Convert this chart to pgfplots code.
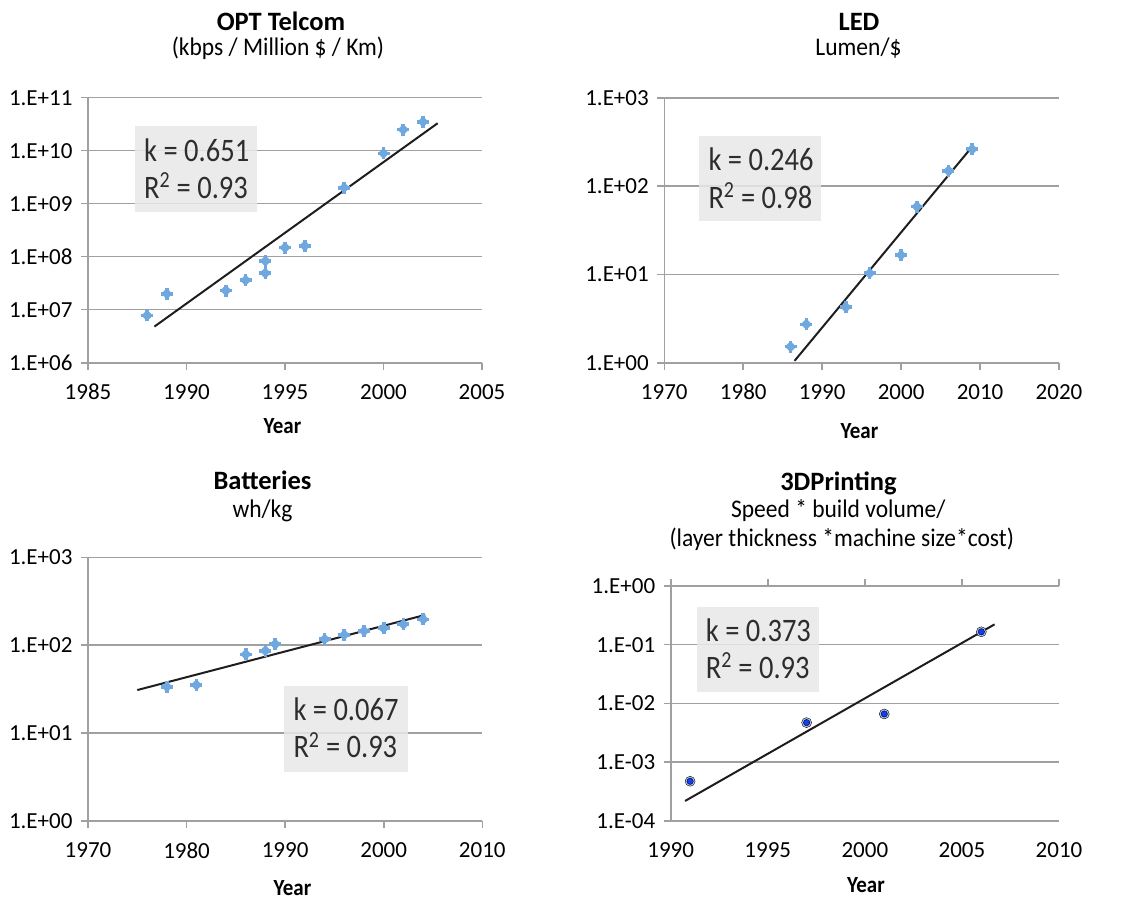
\documentclass[border=0pt]{standalone}
\usepackage{fontspec}
\setmainfont{Carlito}
\usepackage{graphicx}
\usepackage{pgfplots}
\pgfplotsset{compat=1.18}
\usepackage{pgfplotstable}

\definecolor{gridc}{RGB}{160,160,160}
\definecolor{mk}{RGB}{111,168,222}
\definecolor{dotc}{RGB}{20,60,245}
\definecolor{haloc}{RGB}{175,200,245}
\definecolor{boxc}{RGB}{232,232,232}
\definecolor{boxtext}{RGB}{45,45,45}
\definecolor{trend}{RGB}{30,30,30}

\pgfplotstableread{
x y
1988 7.8e6
1989 2.0e7
1992 2.3e7
1993 3.6e7
1994 8.3e7
1994 4.9e7
1995 1.48e8
1996 1.6e8
1998 2.0e9
2000 8.9e9
2001 2.5e10
2002 3.5e10
}\telcom

\pgfplotstableread{
x y
1986 1.52
1988 2.72
1993 4.24
1996 10.3
2000 16.6
2002 58.5
2006 149
2009 261
}\led

\pgfplotstableread{
x y
1978 33.7
1981 35.3
1986 78.8
1988 86.6
1989 103
1994 117
1996 131
1998 145
2000 156
2002 173
2004 197
}\batt

\pgfplotstableread{
x y
1991 4.7e-4
1997 4.7e-3
2001 6.6e-3
2006 0.166
}\printing

\pgfplotsset{
  /pgfplots/mypanel/.style={
    scale only axis, anchor=south west,
    axis line style={draw=none},
    ymajorgrids, grid style={gridc, line width=1.6pt},
    xtick pos=left, ytick pos=left,
    tick align=outside, major tick length=7pt, minor tick length=0pt,
    major tick style={gridc, line width=1.6pt},
    every tick label/.style={text=black, font=\fontsize{23}{27}\selectfont},
    xticklabel shift=11pt, yticklabel shift=5pt,
    clip=false,
  },
}
\tikzset{
  bluemark/.style={only marks, mark=square*, mark size=3.7pt,
    mark options={rotate=45, fill=mk, draw=mk}},
  blueplus/.style={only marks, mark=+, mark size=6pt,
    mark options={draw=mk, line width=3.6pt}},
  trendl/.style={color=trend, line width=2pt},
}

\newcommand\yaxisline{\draw[gridc, line width=1.6pt] (rel axis cs:0,0) -- (rel axis cs:0,1);
  \draw[gridc, line width=1.6pt] (rel axis cs:0,0) -- (rel axis cs:1,0);}
\newcommand\KT[1]{\scalebox{1}[1.15]{#1}}
\newcommand\SB[1]{\scalebox{1}[1.08]{#1}}
\newcommand\YR{\scalebox{1}[1.1]{Year}}

\begin{document}
\begin{tikzpicture}
\useasboundingbox (0,0) rectangle (1121pt,-899pt);

% ---------- OPT Telcom ----------
\begin{axis}[ymode=log, mypanel, at={(88pt,-362.7pt)}, width=394pt, height=265pt,
  xmin=1985, xmax=2005, ymin=1e6, ymax=1e11,
  xtick={1985,1990,1995,2000,2005}, xticklabels={1985,1990,1995,2000,2005},
  ytick={1e6,1e7,1e8,1e9,1e10,1e11},
  yticklabels={1.E+06,1.E+07,1.E+08,1.E+09,1.E+10,1.E+11}]
\yaxisline
\addplot[blueplus] table[x=x,y=y] {\telcom};
\addplot[bluemark] table[x=x,y=y] {\telcom};
\addplot[trendl] coordinates {(1988.37,4.8e6) (2002.75,3.3e10)};
\end{axis}

% ---------- LED ----------
\begin{axis}[ymode=log, mypanel, at={(664.3pt,-362.7pt)}, width=394.7pt, height=265pt,
  xmin=1970, xmax=2020, ymin=1, ymax=1e3,
  xtick={1970,1980,1990,2000,2010,2020}, xticklabels={1970,1980,1990,2000,2010,2020},
  ytick={1,10,100,1000},
  yticklabels={1.E+00,1.E+01,1.E+02,1.E+03}]
\yaxisline
\addplot[blueplus] table[x=x,y=y] {\led};
\addplot[bluemark] table[x=x,y=y] {\led};
\addplot[trendl] coordinates {(1986.5,1.05) (2009.0,279)};
\end{axis}

% ---------- Batteries ----------
\begin{axis}[ymode=log, mypanel, at={(88pt,-821pt)}, width=394.3pt, height=263.7pt,
  xmin=1970, xmax=2010, ymin=1, ymax=1e3,
  xtick={1970,1980,1990,2000,2010}, xticklabels={1970,1980,1990,2000,2010},
  ytick={1,10,100,1000},
  yticklabels={1.E+00,1.E+01,1.E+02,1.E+03}]
\yaxisline
\addplot[blueplus] table[x=x,y=y] {\batt};
\addplot[bluemark] table[x=x,y=y] {\batt};
\addplot[trendl] coordinates {(1975,30.9) (2004.2,221)};
\end{axis}

% ---------- 3D Printing ----------
\begin{axis}[ymode=log, mypanel, at={(670.7pt,-820.7pt)}, width=388.3pt, height=234.7pt,
  xmin=1990, xmax=2010, ymin=1e-4, ymax=1,
  xtick pos=right, xticklabel pos=left,
  xtick={1990,1995,2000,2005,2010}, xticklabels={1990,1995,2000,2005,2010},
  ytick={1e-4,1e-3,1e-2,1e-1,1},
  yticklabels={1.E-04,1.E-03,1.E-02,1.E-01,1.E+00}]
\yaxisline
\addplot[only marks, mark=*, mark size=5pt, mark options={fill=haloc, draw=none}] table[x=x,y=y] {\printing};
\addplot[only marks, mark=*, mark size=3.2pt, mark options={fill=dotc, draw=none}] table[x=x,y=y] {\printing};
\addplot[trendl] coordinates {(1990.74,2.17e-4) (2006.68,0.222)};
\end{axis}

% ---------- titles ----------
\tikzset{ttl/.style={anchor=base, inner sep=0pt, font=\bfseries\fontsize{26.5}{30}\selectfont},
  sub/.style={anchor=base, inner sep=0pt, font=\fontsize{23.5}{28}\selectfont},
  yr/.style={anchor=base, inner sep=0pt, font=\bfseries\fontsize{21}{25}\selectfont},
  kt/.style={anchor=base west, inner sep=0pt, text=boxtext, font=\fontsize{28.5}{32}\selectfont}}

\node[ttl] at (281pt,-31pt) {OPT Telcom};
\node[sub] at (278pt,-56pt) {\SB{(kbps / Million \$ / Km)}};
\node[ttl] at (859pt,-31pt) {LED};
\node[sub] at (858.5pt,-56pt) {\SB{Lumen/\$}};
\node[ttl] at (262.5pt,-489pt) {Batteries};
\node[sub] at (262.5pt,-517pt) {\SB{wh/kg}};
\node[ttl] at (838.5pt,-490pt) {3DPrinting};
\node[sub] at (838.3pt,-517pt) {\SB{Speed * build volume/}};
\node[sub] at (841.7pt,-546pt) {\SB{(layer thickness *machine size*cost)}};

\node[yr] at (282.5pt,-433pt) {\YR};
\node[yr] at (859.5pt,-438pt) {\YR};
\node[yr] at (292.5pt,-895pt) {\YR};
\node[yr] at (866pt,-892pt) {\YR};

% ---------- k / R^2 boxes ----------
\fill[boxc, opacity=0.85] (135pt,-126pt) rectangle (257pt,-212pt);
\node[kt] at (144pt,-161pt) {\KT{k = 0.651}};
\node[kt] at (144pt,-198.3pt) {\KT{R\textsuperscript{2} = 0.93}};

\fill[boxc, opacity=0.85] (699pt,-135.7pt) rectangle (821pt,-221.3pt);
\node[kt] at (708.3pt,-170.7pt) {\KT{k = 0.246}};
\node[kt] at (708.3pt,-208.3pt) {\KT{R\textsuperscript{2} = 0.98}};

\fill[boxc, opacity=0.85] (283.7pt,-686pt) rectangle (408pt,-771.7pt);
\node[kt] at (293.3pt,-720pt) {\KT{k = 0.067}};
\node[kt] at (293.3pt,-757.7pt) {\KT{R\textsuperscript{2} = 0.93}};

\fill[boxc, opacity=0.85] (696.7pt,-606.7pt) rectangle (819pt,-692.3pt);
\node[kt] at (705.7pt,-641.7pt) {\KT{k = 0.373}};
\node[kt] at (705.7pt,-678.3pt) {\KT{R\textsuperscript{2} = 0.93}};
\end{tikzpicture}
\end{document}
